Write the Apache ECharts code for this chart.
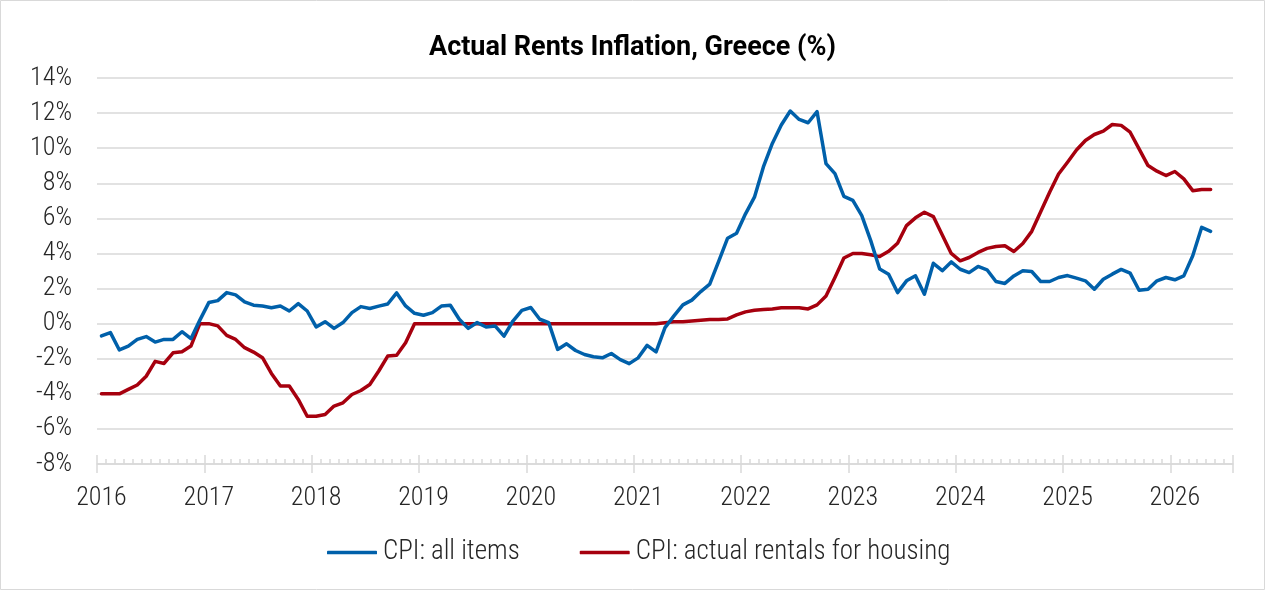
<!DOCTYPE html>
<html>
<head>
<meta charset="utf-8">
<script src="https://cdn.jsdelivr.net/npm/echarts@6/dist/echarts.min.js"></script>
<style>
  html, body { margin: 0; padding: 0; background: #fff; }
  #chart { width: 1265px; height: 590px; }
</style>
</head>
<body>
<div id="chart"></div>
<script>
// ---- data ----
const years = [2016, 2017, 2018, 2019, 2020, 2021, 2022, 2023, 2024, 2025, 2026];
const lastMonthOnAxis = 7; // axis runs through July 2026

const cpiAllItems = [
  -0.70, -0.51, -1.50, -1.28, -0.90, -0.74, -1.05, -0.90, -0.90, -0.46, -0.86, 0.20,
  1.20, 1.31, 1.77, 1.64, 1.24, 1.05, 1.00, 0.91, 1.00, 0.72, 1.14, 0.72,
  -0.19, 0.11, -0.27, 0.06, 0.63, 0.97, 0.86, 1.00, 1.12, 1.75, 1.01, 0.59,
  0.48, 0.63, 1.00, 1.05, 0.25, -0.27, 0.06, -0.19, -0.13, -0.71, 0.15, 0.76,
  0.92, 0.25, 0.06, -1.47, -1.15, -1.53, -1.76, -1.89, -1.95, -1.70, -2.05, -2.28,
  -1.95, -1.24, -1.61, -0.23, 0.44, 1.07, 1.34, 1.83, 2.25, 3.55, 4.87, 5.15,
  6.26, 7.21, 8.93, 10.27, 11.32, 12.12, 11.64, 11.45, 12.08, 9.12, 8.55, 7.25,
  7.02, 6.16, 4.73, 3.11, 2.82, 1.77, 2.44, 2.73, 1.68, 3.44, 3.02, 3.52,
  3.10, 2.91, 3.26, 3.07, 2.40, 2.29, 2.72, 3.01, 2.97, 2.40, 2.40, 2.63,
  2.74, 2.59, 2.44, 1.96, 2.53, 2.82, 3.09, 2.88, 1.90, 1.96, 2.44, 2.63,
  2.50, 2.72, 3.87, 5.49, 5.26
];

const cpiActualRentals = [
  -4.00, -4.00, -4.00, -3.75, -3.50, -3.00, -2.15, -2.27, -1.66, -1.60, -1.28, 0.00,
  0.00, -0.13, -0.67, -0.90, -1.37, -1.62, -1.94, -2.84, -3.56, -3.56, -4.32, -5.28,
  -5.28, -5.18, -4.70, -4.51, -4.04, -3.81, -3.47, -2.70, -1.85, -1.80, -1.09, 0.00,
  0, 0, 0, 0, 0, 0, 0, 0, 0, 0, 0, 0,
  0, 0, 0, 0, 0, 0, 0, 0, 0, 0, 0, 0,
  0, 0, 0, 0.05, 0.11, 0.11, 0.15, 0.19, 0.23, 0.23, 0.27, 0.50,
  0.67, 0.76, 0.80, 0.84, 0.90, 0.90, 0.90, 0.84, 1.07, 1.58, 2.63, 3.74,
  4.00, 4.00, 3.93, 3.82, 4.12, 4.58, 5.59, 6.03, 6.35, 6.10, 5.05, 4.00,
  3.58, 3.77, 4.06, 4.29, 4.40, 4.44, 4.11, 4.57, 5.26, 6.38, 7.49, 8.53,
  9.20, 9.90, 10.44, 10.78, 10.97, 11.35, 11.30, 10.91, 9.96, 9.01, 8.69, 8.44,
  8.67, 8.25, 7.58, 7.64, 7.64
];

const seriesNames = ['CPI: all items', 'CPI: actual rentals for housing'];
const yTicks = { min: -8, max: 14, step: 2 };

// monthly categories
const months = [];
years.forEach(function (y) {
  for (let m = 1; m <= 12; m++) {
    if (y === years[years.length - 1] && m > lastMonthOnAxis) break;
    months.push(y + '-' + (m < 10 ? '0' + m : m));
  }
});

const FONT = "'Roboto Condensed', Roboto";
const GRID_COLOR = '#D9D9D9';
const TEXT_COLOR = '#262626';

const chart = echarts.init(document.getElementById('chart'), null, { renderer: 'canvas' });

const isYearStart = function (idx) { return idx % 12 === 0; };

chart.setOption({
  animation: false,
  backgroundColor: '#fff',
  title: {
    text: 'Actual Rents Inflation, Greece (%)',
    left: 'center',
    top: 30,
    textStyle: { fontFamily: 'Roboto', fontWeight: 'bold', fontSize: 27, color: '#000' }
  },
  grid: { left: 97, right: 32, top: 78, bottom: 126, containLabel: false },
  legend: {
    data: [
      { name: seriesNames[0], icon: 'roundRect' },
      { name: seriesNames[1], icon: 'roundRect' }
    ],
    left: 322,
    top: 534,
    itemWidth: 50,
    itemHeight: 3.5,
    itemGap: 60,
    textStyle: { fontFamily: FONT, fontWeight: 300, fontSize: 27, color: TEXT_COLOR, padding: [0, 0, 0, 1] }
  },
  graphic: [{
    type: 'rect', shape: { x: 0.5, y: 0.5, width: 1264, height: 589 },
    style: { fill: 'none', stroke: GRID_COLOR, lineWidth: 1 }, silent: true, z: 100
  }],
  xAxis: [{
    type: 'category',
    data: months,
    boundaryGap: true,
    axisLine: { show: true, onZero: false, lineStyle: { color: GRID_COLOR, width: 1.5 } },
    axisTick: { show: true, inside: true, interval: 0, length: 5, lineStyle: { color: GRID_COLOR, width: 1.5 } },
    axisLabel: {
      interval: isYearStart,
      formatter: function (v) { return v.slice(0, 4); },
      margin: 21,
      fontFamily: FONT, fontWeight: 300, fontSize: 26, color: TEXT_COLOR
    },
    splitLine: { show: false }
  }, {
    type: 'category',
    data: months,
    boundaryGap: true,
    position: 'bottom',
    offset: -9,
    axisLine: { show: false, onZero: false },
    axisTick: { show: true, interval: isYearStart, length: 18, lineStyle: { color: GRID_COLOR, width: 1.5 } },
    axisLabel: { show: false },
    splitLine: { show: false }
  }],
  yAxis: {
    type: 'value',
    min: yTicks.min,
    max: yTicks.max,
    interval: yTicks.step,
    axisLine: { show: false },
    axisTick: { show: false },
    axisLabel: {
      formatter: '{value}%',
      margin: 25,
      fontFamily: FONT, fontWeight: 300, fontSize: 26, color: TEXT_COLOR
    },
    splitLine: { show: true, lineStyle: { color: GRID_COLOR, width: 1.5 } }
  },
  series: [{
    name: seriesNames[0],
    type: 'line',
    data: cpiAllItems,
    symbol: 'none',
    lineStyle: { color: '#0060AA', width: 3.5, join: 'round', cap: 'round' },
    itemStyle: { color: '#0060AA' },
    z: 3
  }, {
    name: seriesNames[1],
    type: 'line',
    data: cpiActualRentals,
    symbol: 'none',
    lineStyle: { color: '#A6000E', width: 3.5, join: 'round', cap: 'round' },
    itemStyle: { color: '#A6000E' },
    z: 2
  }]
});
</script>
</body>
</html>
